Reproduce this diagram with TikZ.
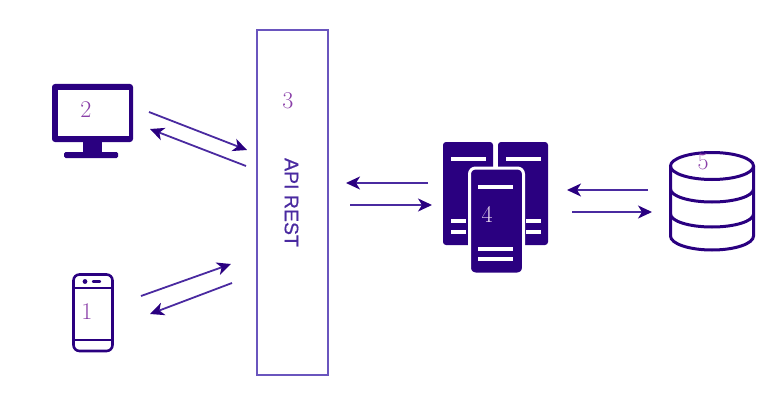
\documentclass[tikz,border=0pt]{standalone}
\usepackage{fontspec}
\newfontfamily\apifont[FakeBold=0.6]{Liberation Sans}
\usetikzlibrary{arrows.meta}
\definecolor{ink}{HTML}{2A0080}
\definecolor{shaft}{HTML}{4A2AA0}
\definecolor{frame}{HTML}{6A55BE}
\definecolor{digit}{HTML}{8A3FA8}
\tikzset{
  flow/.style={draw=shaft,line width=1.8pt,-{Stealth[length=14pt,width=13pt,inset=4pt,color=ink]}},
  digitlabel/.style={text=digit,font=\fontsize{24}{24}\selectfont,inner sep=0pt},
  outline/.style={draw=ink,line width=3pt},
  bar/.style={fill=white,draw=none},
  server/.style={fill=ink,draw=none,rounded corners=3pt},
}
\begin{document}
\begin{tikzpicture}[x=1pt,y=-1pt]
\useasboundingbox (0,0) rectangle (775,401);
% API box
\node[draw=frame,line width=1.8pt,minimum width=71pt,minimum height=345pt,inner sep=0pt] (api) at (292.5,202.5) {};
\node[rotate=-90,text=shaft,font=\apifont\fontsize{19.5}{19.5}\selectfont,inner sep=0pt] (apitext) at (291.5,202.5) {API REST};
\node[digitlabel] (n3) at (288,101) {3};
% Monitor
\fill[ink,rounded corners=3pt] (52,84) rectangle (133,142);
\fill[white] (58,90) rectangle (129,136);
\fill[ink] (83,141) rectangle (102,153);
\fill[ink,rounded corners=1.5pt] (64,152) rectangle (118,158);
\node[digitlabel] (n2) at (86,110) {2};
% Phone
\draw[ink,rounded corners=6pt,line width=2.6pt] (73.5,274.5) rectangle (112.5,351);
\draw[ink,line width=2.4pt] (73.5,288) -- (112.5,288) (73.5,340) -- (112.5,340);
\fill[ink] (85,281.5) circle (2.4pt);
\draw[ink,line width=2.4pt,line cap=round] (93,281.5) -- (100,281.5);
\node[digitlabel] (n1) at (87,312) {1};
% Servers
\fill[server] (443,142) rectangle (493,245);
\fill[server] (498,142) rectangle (548,245);
\fill[ink,rounded corners=6pt,draw=white,line width=3pt] (469.5,168) rectangle (523.5,274);
\foreach \xa/\xb/\ya in {451/486/159,451/466/221,451/466/232,506/541/159,526/541/221,526/541/232,478/513/187,478/513/249,478/513/259}
  \fill[bar] (\xa,\ya-2) rectangle (\xb,\ya+2);
\node[digitlabel,text=white!80!digit] (n4) at (487,214) {4};
% Database
\draw[outline] (670.5,166) -- (670.5,236) arc[start angle=180,end angle=360,x radius=41.5pt,y radius=14pt] -- (753.5,166);
\draw[outline] (712,166) ellipse[x radius=41.5pt,y radius=13.5pt];
\draw[outline] (670.5,189) arc[start angle=180,end angle=360,x radius=41.5pt,y radius=13pt];
\draw[outline] (670.5,214) arc[start angle=180,end angle=360,x radius=41.5pt,y radius=13pt];
\node[digitlabel] (n5) at (703,162) {5};
% Connector ends
\coordinate (a1) at (149,112); \coordinate (a2) at (247,150);
\coordinate (b1) at (246,166); \coordinate (b2) at (150,129);
\coordinate (c1) at (141,296); \coordinate (c2) at (231,264);
\coordinate (d1) at (232,283); \coordinate (d2) at (150,314);
\coordinate (e1) at (428,183); \coordinate (e2) at (346,183);
\coordinate (f1) at (350,205); \coordinate (f2) at (432,205);
\coordinate (g1) at (648,190); \coordinate (g2) at (567,190);
\coordinate (h1) at (572,212); \coordinate (h2) at (652,212);
\foreach \s/\t in {a1/a2,b1/b2,c1/c2,d1/d2,e1/e2,f1/f2,g1/g2,h1/h2}
  \draw[flow] (\s) -- (\t);
\end{tikzpicture}
\end{document}
